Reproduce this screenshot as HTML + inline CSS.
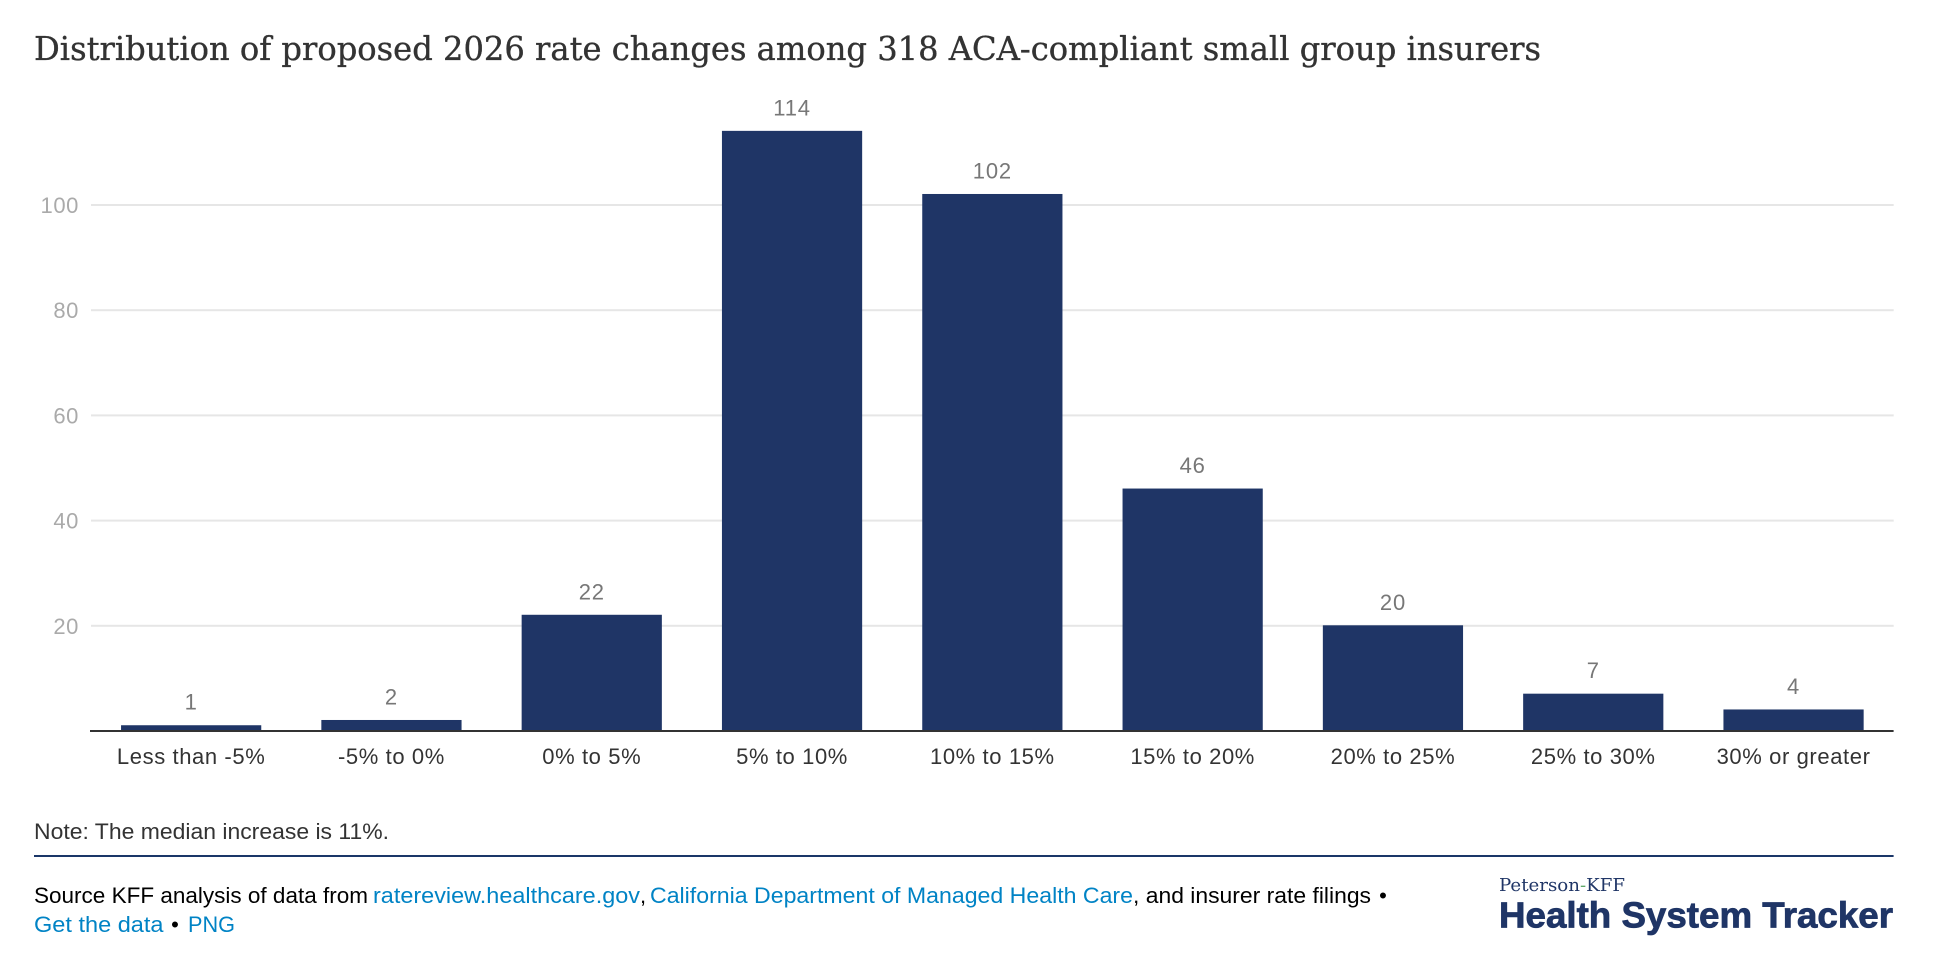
<!DOCTYPE html>
<html lang="en">
<head>
<meta charset="utf-8">
<title>Distribution of proposed 2026 rate changes</title>
<style>
html,body{margin:0;padding:0;background:#fff;}
svg{display:block;}
text{font-family:"Liberation Sans",sans-serif;}
.serif{font-family:"DejaVu Serif","Liberation Serif",serif;}
.foot{font-size:22px;fill:#000;}
.link{font-size:22px;fill:#0083c5;cursor:pointer;}
</style>
</head>
<body>
<svg id="chart" xmlns="http://www.w3.org/2000/svg" width="1942" height="962" viewBox="0 0 1942 962">
  <rect x="0" y="0" width="1942" height="962" fill="#fff"/>
  <text class="serif" x="34" y="60" font-size="33" fill="#333" stroke="#333" stroke-width="0.35" textLength="1507" lengthAdjust="spacingAndGlyphs">Distribution of proposed 2026 rate changes among 318 ACA-compliant small group insurers</text>
  <g id="grid"></g>
  <g id="yticks"></g>
  <g id="bars"></g>
  <g id="values"></g>
  <rect x="90" y="730" width="1803.6" height="2" fill="#333"/>
  <g id="xticks"></g>

  <text class="foot" x="34" y="839" style="fill:#333" textLength="355" lengthAdjust="spacingAndGlyphs">Note: The median increase is 11%.</text>
  <rect x="34" y="855" width="1859.6" height="2" fill="#1a3668"/>

  <text class="foot" x="34" y="903" textLength="334" lengthAdjust="spacingAndGlyphs">Source KFF analysis of data from</text>
  <text class="link" x="373" y="903" textLength="267" lengthAdjust="spacingAndGlyphs">ratereview.healthcare.gov</text>
  <text class="foot" x="640" y="903">,</text>
  <text class="link" x="650" y="903" textLength="483" lengthAdjust="spacingAndGlyphs">California Department of Managed Health Care</text>
  <text class="foot" x="1133" y="903" textLength="238" lengthAdjust="spacingAndGlyphs">, and insurer rate filings</text>
  <text class="foot" x="1383" y="903" text-anchor="middle">•</text>
  <text class="link" x="34" y="932" textLength="129.5" lengthAdjust="spacingAndGlyphs">Get the data</text>
  <text class="foot" x="175" y="932" text-anchor="middle">•</text>
  <text class="link" x="188" y="932" textLength="47" lengthAdjust="spacingAndGlyphs">PNG</text>

  <g>
    <text class="serif" x="1499" y="891" font-size="18" fill="#1f3566" textLength="126" lengthAdjust="spacingAndGlyphs">Peterson<tspan fill="#5fa868">-</tspan>KFF</text>
    <text x="1499" y="927.5" font-size="36" font-weight="700" fill="#1f3566" stroke="#1f3566" stroke-width="0.8" textLength="394" lengthAdjust="spacingAndGlyphs">Health System Tracker</text>
  </g>
</svg>
<script>
var categories = ["Less than -5%", "-5% to 0%", "0% to 5%", "5% to 10%", "10% to 15%", "15% to 20%", "20% to 25%", "25% to 30%", "30% or greater"];
var insurerCounts = [1, 2, 22, 114, 102, 46, 20, 7, 4];
var yTickValues = [20, 40, 60, 80, 100];

var NS = "http://www.w3.org/2000/svg";
var plotLeft = 91, plotRight = 1893.7, plotBottom = 730.5, unitPx = 5.26;
var innerPadding = 0.3;

function yScale(v) { return plotBottom - v * unitPx; }
function bandStep() { return (plotRight - plotLeft) / categories.length; }
function bandWidth() { return bandStep() * (1 - innerPadding); }
function xCenter(i) { return plotLeft + bandStep() * (i + 0.5); }

function makeText(parent, x, y, str, size, fill, anchor) {
  var t = document.createElementNS(NS, "text");
  t.setAttribute("x", x);
  t.setAttribute("y", y);
  t.setAttribute("font-size", size);
  t.setAttribute("fill", fill);
  t.setAttribute("text-anchor", anchor);
  t.textContent = str;
  parent.appendChild(t);
  return t;
}

var gridG = document.getElementById("grid");
var yG = document.getElementById("yticks");
yTickValues.forEach(function (v) {
  var r = document.createElementNS(NS, "rect");
  r.setAttribute("x", 91);
  r.setAttribute("y", yScale(v) - 0.5);
  r.setAttribute("width", plotRight - 91);
  r.setAttribute("height", 2);
  r.setAttribute("fill", "#e6e6e6");
  
  
  gridG.appendChild(r);
  var t = makeText(yG, 79, yScale(v) + 8.5, String(v), 22, "#aaaaaa", "end");
  t.setAttribute("letter-spacing", "0.6");
  
  
});

var barsG = document.getElementById("bars");
var valG = document.getElementById("values");
var xG = document.getElementById("xticks");
insurerCounts.forEach(function (v, i) {
  var r = document.createElementNS(NS, "rect");
  r.setAttribute("x", xCenter(i) - bandWidth() / 2);
  r.setAttribute("y", yScale(v));
  r.setAttribute("width", bandWidth());
  r.setAttribute("height", plotBottom - yScale(v));
  r.setAttribute("fill", "#1f3566");
  
  
  barsG.appendChild(r);
  var val = makeText(valG, xCenter(i), yScale(v) - 15.5, String(v), 22, "#777777", "middle");
  val.setAttribute("letter-spacing", "0.8");
  
  
  var lab = makeText(xG, xCenter(i), 764, categories[i], 22, "#333333", "middle");
  lab.setAttribute("letter-spacing", "0.6");
  
  
});
</script>
</body>
</html>
